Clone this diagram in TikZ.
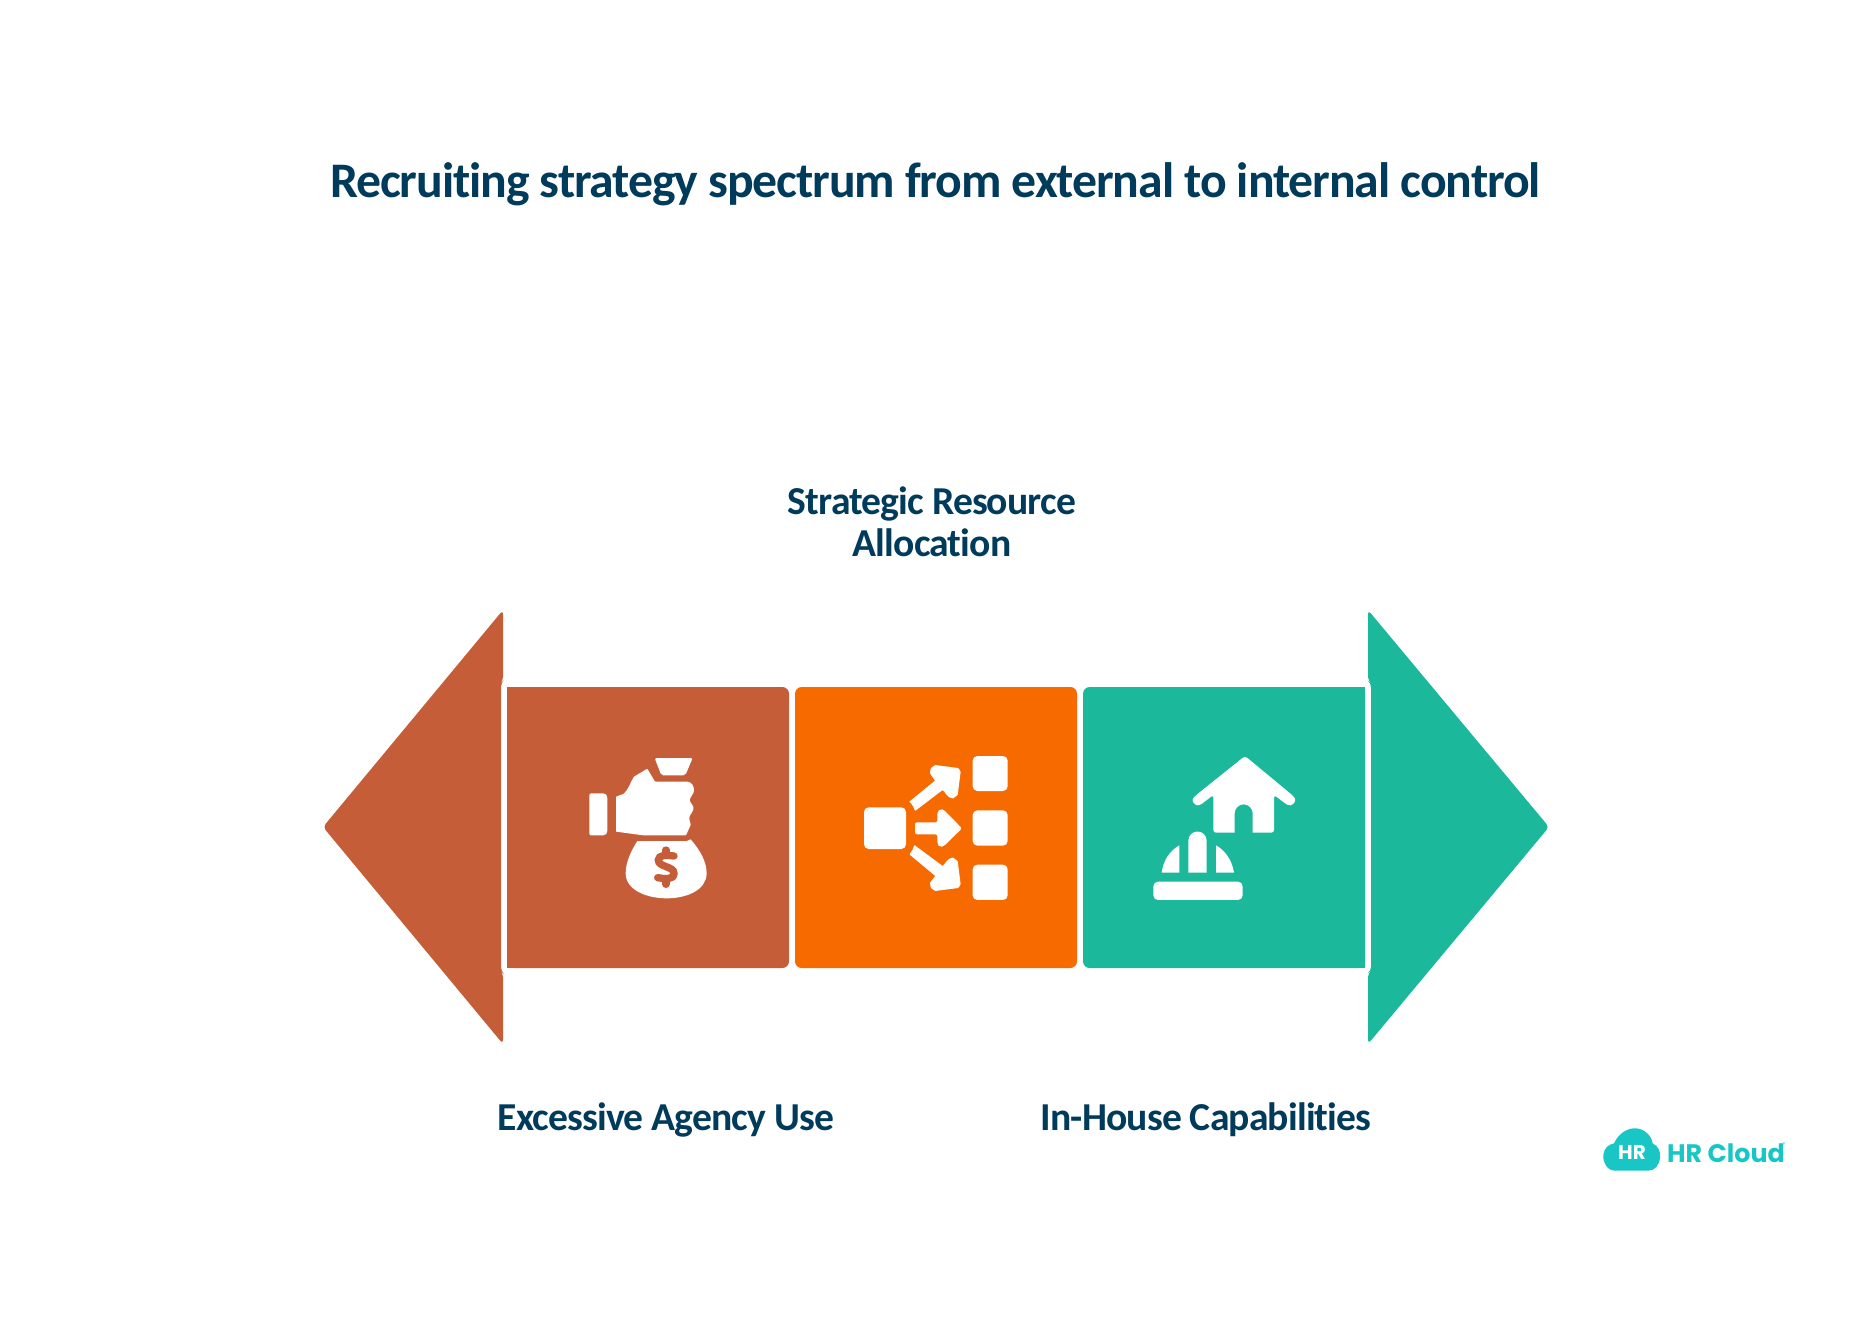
\documentclass[tikz,border=0pt]{standalone}
\usepackage{fontspec}
\setmainfont[Ligatures=NoCommon,LetterSpace=-2.2]{Carlito}
\newfontfamily\logofont{Poppins}
\definecolor{inkblue}{HTML}{003B5C}
\definecolor{brickred}{HTML}{C55D38}
\definecolor{deeporange}{HTML}{F66A00}
\definecolor{seagreen}{HTML}{1BB89C}
\definecolor{cloudteal}{HTML}{19C6C6}
\tikzset{every picture/.style={line width=0.75pt}}
\tikzset{
  titletext/.style={text=inkblue,font=\fontsize{37.3}{42}\selectfont\bfseries,align=center,inner sep=0pt},
  labeltext/.style={text=inkblue,font=\fontsize{29.7}{31.5}\selectfont\bfseries,align=center,inner sep=0pt},
  icon/.style={fill=white,rounded corners=1.5},
}

\begin{document}
\begin{tikzpicture}[x=0.75pt,y=0.75pt,yscale=-1,xscale=1]
\useasboundingbox (0,0) rectangle (1872,1335);

%Shape: Left Arrow
\fill [brickred,rounded corners=3] (323,827) -- (503,610) -- (503,681) -- (501,683) -- (501,971) -- (503,973) -- (503,1044) -- cycle ;
%Shape: Right Arrow
\fill [seagreen,rounded corners=3] (1549,827) -- (1368,610) -- (1368,681) -- (1371,683) -- (1371,971) -- (1368,973) -- (1368,1044) -- cycle ;
%Shape: Rectangle
\fill [brickred,rounded corners=5] (507,687) -- (789,687) -- (789,968) -- (507,968) -- cycle ;
\fill [brickred] (507,687) rectangle (530,968) ;
%Shape: Rectangle
\fill [deeporange,rounded corners=5] (795,687) rectangle (1077,968) ;
%Shape: Rectangle
\fill [seagreen,rounded corners=5] (1083,687) -- (1365,687) -- (1365,968) -- (1083,968) -- cycle ;
\fill [seagreen] (1345,687) rectangle (1365,968) ;

%Icon: Money Bag
\begin{scope}[shift={(560,730)},scale=0.3333]
\fill [icon] (284,84) -- (398,84) -- (376,136) -- (304,136) -- cycle ;
\fill [white] (88,194) -- (92,190) -- (130,190) .. controls (138,190) and (142,196) .. (142,204) -- (142,302) .. controls (142,310) and (138,316) .. (130,316) -- (92,316) -- (88,312) -- cycle ;
\fill [icon,rounded corners=0.5] (168,200) -- (190,192) .. controls (205,180) and (212,155) .. (222,140) -- (262,116) -- (285,155) -- (380,155) .. controls (395,155) and (402,170) .. (402,180) .. controls (402,190) and (388,205) .. (390,212) .. controls (392,220) and (402,228) .. (400,238) .. controls (398,248) and (388,255) .. (388,265) .. controls (388,272) and (392,280) .. (392,285) -- (378,316) -- (250,316) -- (168,305) -- cycle ;
\fill [white] (232,333) -- (380,333) -- (392,328) .. controls (420,360) and (440,395) .. (440,430) .. controls (440,480) and (380,505) .. (320,505) .. controls (260,505) and (197,480) .. (197,430) .. controls (197,395) and (215,360) .. (232,333) -- cycle ;
\draw [brickred,line width=5.5pt,line cap=round] (342,378) .. controls (320,374) and (295,375) .. (295,390) .. controls (295,412) and (342,408) .. (342,430) .. controls (342,450) and (315,447) .. (293,443) ;
\draw [brickred,line width=5.5pt,line cap=round] (318,360) -- (318,372) ;
\draw [brickred,line width=5.5pt,line cap=round] (318,450) -- (318,463) ;
\end{scope}

%Icon: Distribution
\begin{scope}[shift={(850,740)},scale=0.3333]
\fill [icon,rounded corners=3.5] (42,202) rectangle (168,327) ;
\fill [icon,rounded corners=3.5] (368,48) rectangle (473,153) ;
\fill [icon,rounded corners=3.5] (368,211) rectangle (473,317) ;
\fill [icon,rounded corners=3.5] (368,374) rectangle (473,480) ;
\fill [icon] (195,247) -- (262,247) -- (262,215) -- (272,206) -- (282,210) -- (336,265) -- (282,318) -- (270,322) -- (262,312) -- (262,283) -- (195,283) -- cycle ;
\fill [icon,rounded corners=0.5] (178,185) -- (255,122) -- (240,100) -- (242,85) -- (255,75) -- (325,84) -- (332,95) -- (323,165) -- (308,176) -- (295,170) -- (278,150) -- (195,213) .. controls (192,203) and (186,192) .. (178,185) -- cycle ;
\fill [icon,rounded corners=0.5] (178,343) .. controls (186,335) and (190,325) .. (193,315) -- (278,378) -- (295,358) -- (308,352) -- (323,363) -- (332,433) -- (325,444) -- (255,453) -- (242,443) -- (240,428) -- (256,408) -- cycle ;
\end{scope}

%Icon: House and Helmet
\begin{scope}[shift={(1140,740)},scale=0.3333]
\fill [white,rounded corners=2] (315,48) -- (165,168) -- (155,180) -- (165,195) -- (178,197) -- (220,165) -- (220,278) [sharp corners] -- (284,278) -- (284,220) arc (180:360:27) -- (338,278) [rounded corners=2] -- (402,278) -- (402,165) -- (445,197) -- (458,195) -- (468,180) -- (460,168) -- cycle ;
\fill [icon,rounded corners=3.5] (40,425) rectangle (308,480) ;
\fill [white] (145,398) -- (145,302) arc (180:360:27.5) -- (200,398) -- cycle ;
\fill [white] (118,316) -- (118,398) -- (65,398) .. controls (70,360) and (90,332) .. (118,316) -- cycle ;
\fill [white] (228,316) -- (228,398) -- (282,398) .. controls (276,360) and (256,332) .. (228,316) -- cycle ;
\end{scope}

%Logo: Cloud
\begin{scope}[shift={(1590,1110)},scale=0.3333]
\fill [cloudteal] (75,182) .. controls (50,182) and (38,155) .. (40,135) .. controls (42,115) and (55,103) .. (72,100) .. controls (85,70) and (115,52) .. (140,55) .. controls (165,58) and (185,78) .. (188,100) .. controls (205,108) and (212,125) .. (210,142) .. controls (208,165) and (195,182) .. (175,182) -- cycle ;
\end{scope}

% Text Node
\draw (935.5,184.5) node (title) [titletext] {Recruiting strategy spectrum from external to internal control};
% Text Node
\draw (932,522) node (midlabel) [labeltext] {Strategic Resource\\Allocation};
% Text Node
\draw (666,1119.5) node (leftlabel) [labeltext] {Excessive Agency Use};
% Text Node
\draw (1206,1119.5) node (rightlabel) [labeltext] {In-House Capabilities};
% Text Node
\draw (1632,1152) node (cloudtext) [text=white,font=\logofont\fontsize{15}{15}\selectfont\bfseries,inner sep=0pt] {HR};
% Text Node
\draw (1726,1153) node (logotext) [text=cloudteal,font=\logofont\fontsize{19}{19}\selectfont\bfseries,inner sep=0pt] {HR Cloud};
% Text Node
\draw (1784,1145) node (regmark) [text=cloudteal,font=\logofont\fontsize{4}{4}\selectfont,inner sep=0pt] {®};

\end{tikzpicture}
\end{document}
